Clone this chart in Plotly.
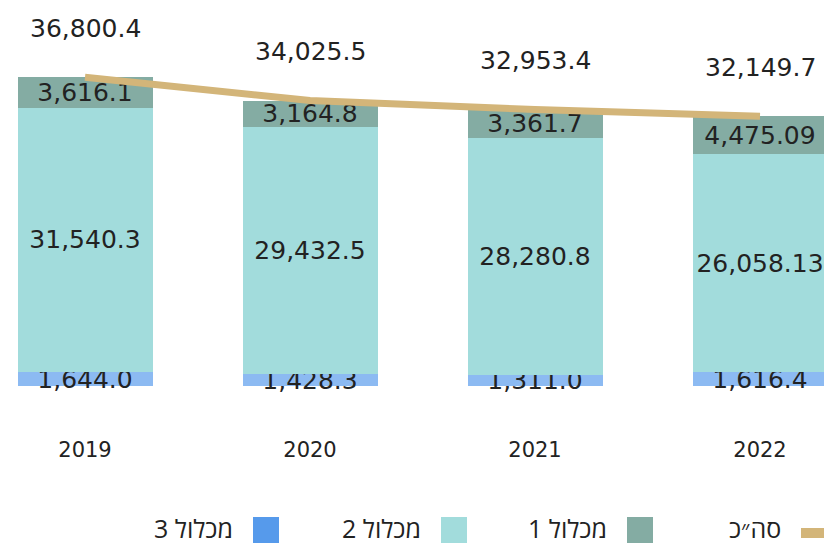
import plotly.graph_objects as go

years = ["2019", "2020", "2021", "2022"]
mikhlol3 = [1644.0, 1428.3, 1311.0, 1616.4]
mikhlol2 = [31540.3, 29432.5, 28280.8, 26058.13]
mikhlol1 = [3616.1, 3164.8, 3361.7, 4475.09]
totals = [36800.4, 34025.5, 32953.4, 32149.7]
label3 = ["1,644.0", "1,428.3", "1,311.0", "1,616.4"]
label2 = ["31,540.3", "29,432.5", "28,280.8", "26,058.13"]
label1 = ["3,616.1", "3,164.8", "3,361.7", "4,475.09"]
total_labels = ["36,800.4", "34,025.5", "32,953.4", "32,149.7"]
legend_names = ["מכלול 3", "מכלול 2", "מכלול 1", "סה״כ"]

C3_BAR = "#8cbaf2"
C3_LEG = "#569aeb"
C2 = "#a2dcdc"
C1 = "#84aca3"
TAN = "#d3b579"
NUM_FONT = "DejaVu Sans"
HEB_FONT = "Open Sans"
TXT = "#222222"

W, H = 824, 546
PLOT_BOTTOM = 430
x_idx = list(range(len(years)))

fig = go.Figure()
common = dict(textposition="inside", insidetextanchor="middle", constraintext="none",
              textangle=0, width=0.6, showlegend=False,
              textfont=dict(family=NUM_FONT, size=25, color=TXT),
              marker_line_width=0)
fig.add_trace(go.Bar(x=x_idx, y=mikhlol3, text=label3, marker_color=C3_BAR, **common))
fig.add_trace(go.Bar(x=x_idx, y=mikhlol2, text=label2, marker_color=C2, **common))
fig.add_trace(go.Bar(x=x_idx, y=mikhlol1, text=label1, marker_color=C1, **common))
fig.add_trace(go.Scatter(x=x_idx, y=totals, mode="lines", showlegend=False,
                         line=dict(color=TAN, width=7), cliponaxis=False))

for xi, t, lab in zip(x_idx, totals, total_labels):
    fig.add_annotation(x=xi, y=t, text=lab, showarrow=False, yshift=49,
                       font=dict(family=NUM_FONT, size=25, color=TXT))

def px(xp):
    return xp / W

def py(yp):
    return (PLOT_BOTTOM - yp) / PLOT_BOTTOM

# manual RTL legend: text to the left of the marker
legend_items = [
    (legend_names[0], C3_LEG, "square", 253),
    (legend_names[1], C2, "square", 441),
    (legend_names[2], C1, "square", 627),
    (legend_names[3], TAN, "line", 801),
]
for name, col, kind, mx in legend_items:
    if kind == "square":
        fig.add_shape(type="rect", xref="paper", yref="paper",
                      x0=px(mx), x1=px(mx + 26), y0=py(543), y1=py(517),
                      fillcolor=col, line_width=0)
    else:
        fig.add_shape(type="rect", xref="paper", yref="paper",
                      x0=px(mx), x1=px(mx + 30), y0=py(538), y1=py(528),
                      fillcolor=col, line_width=0)
    fig.add_annotation(xref="paper", yref="paper", x=px(mx - 18), y=py(528),
                       xanchor="right", yanchor="middle", showarrow=False,
                       text="\u202b" + name + "\u202c",
                       font=dict(family=HEB_FONT, size=25, color=TXT))

ppx = 36800.4 / (386 - 77.3)
fig.update_layout(
    width=W, height=H, barmode="stack",
    margin=dict(l=0, r=0, t=0, b=H - PLOT_BOTTOM),
    plot_bgcolor="white", paper_bgcolor="white",
    xaxis=dict(range=[-85 / 225, (W - 85) / 225], tickmode="array",
               tickvals=x_idx, ticktext=years, showgrid=False, zeroline=False,
               showline=False, ticks="", ticklabelstandoff=5,
               tickfont=dict(family=NUM_FONT, size=21, color=TXT)),
    yaxis=dict(range=[-(PLOT_BOTTOM - 386) * ppx, 386 * ppx], visible=False,
               showgrid=False, zeroline=False),
)

fig.write_html("out.html", config={"displayModeBar": False},
               post_script="document.body.style.margin='0';document.body.style.overflow='hidden';")
